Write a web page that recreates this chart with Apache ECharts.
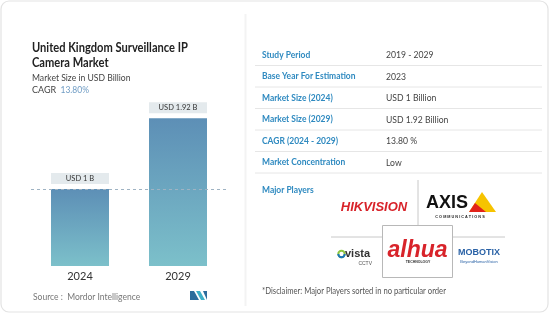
<!DOCTYPE html>
<html><head><meta charset="utf-8">
<script src="https://cdn.jsdelivr.net/npm/echarts@6/dist/echarts.min.js"></script>
<style>html,body{margin:0;padding:0;background:#fff}#c{width:550px;height:315px}</style>
</head><body><div id="c"></div>
<script>
const categories = ['2024', '2029'];
const values = [1, 1.92];
const valueLabels = ['USD 1 B', 'USD 1.92 B'];
const titleLines = ['United Kingdom Surveillance IP', 'Camera Market'];
const subtitle = 'Market Size in USD Billion';
const cagrText = '13.80%';
const tableLabels = ['Study Period', 'Base Year For Estimation', 'Market Size (2024)', 'Market Size (2029)', 'CAGR (2024 - 2029)', 'Market Concentration'];
const tableValues = ['2019 - 2029', '2023', 'USD 1 Billion', 'USD 1.92 Billion', '13.80 %', 'Low'];
const players = ['HIKVISION', 'AXIS', 'vista', 'alhua', 'MOBOTIX'];

const F = 'Lato, "Open Sans", sans-serif';
const chart = echarts.init(document.getElementById('c'), null, {renderer: 'canvas'});

const g = [];
function txt(x, y, text, font, fill, sx, extra) {
  g.push(Object.assign({type: 'text', x: x, y: y, scaleX: sx || 1, z: 5,
    style: {text: text, font: font, fill: fill, verticalAlign: 'middle'}}, extra || {}));
}
// outer card
g.push({type: 'rect', z: -10, shape: {x: 1, y: 1, width: 547, height: 311, r: 8}, style: {fill: '#fff', stroke: '#e3e3e3', lineWidth: 1.2}});
g.push({type: 'line', z: -9, shape: {x1: 245.5, y1: 14, x2: 245.5, y2: 306}, style: {stroke: '#f3f3f3', lineWidth: 2}});
// title
titleLines.forEach((t, i) => txt(32, 48 + i * 14.5, t, 'bold 12.5px ' + F, '#222', 0.89));
txt(32, 77.5, subtitle, '10px ' + F, '#444', 0.86);
txt(32, 90, 'CAGR', '10px ' + F, '#444', 0.9);
txt(60.5, 90, cagrText, '10px ' + F, '#6f9cc4', 0.85);
// source
txt(33, 297, 'Source :  Mordor Intelligence', '8.5px ' + F, '#777', 1);
// Mordor logo
g.push({type: 'polygon', shape: {points: [[190, 300], [190, 291], [194, 291], [199, 300]]}, style: {fill: '#2b6c9c'}});
g.push({type: 'polygon', shape: {points: [[196, 291], [200, 291], [205, 300], [201, 300]]}, style: {fill: '#3db0c8'}});
g.push({type: 'polygon', shape: {points: [[203, 291], [207, 291], [207, 300]]}, style: {fill: '#2b6c9c'}});
// table
const rowY = [55, 76.5, 98, 119.5, 141, 162.5];
tableLabels.forEach((t, i) => {
  txt(262, rowY[i], t, 'bold 9px ' + F, '#2f8ac0', 0.94);
  txt(386, rowY[i], tableValues[i], '9.8px ' + F, '#444', 0.88);
  g.push({type: 'line', shape: {x1: 255, y1: rowY[i] + 10.5, x2: 542, y2: rowY[i] + 10.5}, style: {stroke: '#e6e6e6', lineWidth: 1}});
});
txt(262, 190, 'Major Players', 'bold 9px ' + F, '#2f8ac0', 0.94);
// logo grid
g.push({type: 'line', shape: {x1: 418, y1: 180, x2: 418, y2: 225}, style: {stroke: '#c8c8c8', lineWidth: 1}});
g.push({type: 'line', shape: {x1: 331, y1: 237, x2: 505, y2: 237}, style: {stroke: '#c8c8c8', lineWidth: 1}});
g.push({type: 'rect', shape: {x: 382.5, y: 225.5, width: 70, height: 52}, style: {fill: '#fff', stroke: '#b8b8b8', lineWidth: 1}});
// HIKVISION
g.push({type: 'text', x: 374, y: 207, style: {text: players[0], font: 'italic bold 13px Arial, ' + F, fill: '#d8232a', align: 'center', verticalAlign: 'middle'}});
// AXIS
g.push({type: 'polygon', shape: {points: [[469, 212], [482, 192], [496, 212]]}, style: {fill: '#f6c300'}});
g.push({type: 'polygon', shape: {points: [[469, 212], [475, 203], [486, 212]]}, style: {fill: '#e2231a'}});
g.push({type: 'text', x: 447, y: 203.5, style: {text: players[1], font: 'bold 18px Arial, ' + F, fill: '#111', align: 'center', verticalAlign: 'middle'}});
g.push({type: 'text', x: 460, y: 217, z: 6, style: {text: 'C O M M U N I C A T I O N S', font: 'bold 3.8px Arial', fill: '#222', align: 'center', verticalAlign: 'middle'}});
// vista
g.push({type: 'circle', shape: {cx: 341.5, cy: 254, r: 3.2}, style: {fill: 'none', stroke: '#8cc63f', lineWidth: 2}});
g.push({type: 'arc', shape: {cx: 341.5, cy: 254, r: 3.2, startAngle: 0, endAngle: Math.PI}, style: {fill: 'none', stroke: '#1b75bb', lineWidth: 2}});
g.push({type: 'text', x: 345, y: 254, style: {text: players[2], font: 'bold 11px Arial, ' + F, fill: '#333', verticalAlign: 'middle'}});
g.push({type: 'text', x: 372, y: 264, style: {text: 'CCTV', font: '5px Arial', fill: '#555', align: 'right', verticalAlign: 'middle'}});
// dahua
g.push({type: 'text', x: 417.5, y: 251, style: {text: players[3], font: 'italic bold 23px Arial, ' + F, fill: '#d8232a', align: 'center', verticalAlign: 'middle'}});
g.push({type: 'text', x: 418, y: 262, style: {text: 'TECHNOLOGY', font: 'bold 3.5px Arial', fill: '#333', align: 'center', verticalAlign: 'middle'}});
// MOBOTIX
g.push({type: 'text', x: 479, y: 253, style: {text: players[4], font: 'bold 9px Arial, ' + F, fill: '#2a62a6', align: 'center', verticalAlign: 'middle'}});
g.push({type: 'text', x: 479, y: 262, style: {text: 'BeyondHumanVision', font: '4px Arial', fill: '#2a62a6', align: 'center', verticalAlign: 'middle'}});
// disclaimer
txt(262, 291, '*Disclaimer: Major Players sorted in no particular order', '8.5px ' + F, '#555', 0.9);

chart.setOption({
  animation: false,
  graphic: {elements: g},
  grid: {left: 31, width: 196, bottom: 49, top: 96.6},
  xAxis: {type: 'category', data: categories, axisLine: {show: false}, axisTick: {show: false},
    axisLabel: {color: '#333', fontSize: 11, fontFamily: F, margin: 5}},
  yAxis: {type: 'value', min: 0, max: 2.2, show: false, splitLine: {show: false}},
  series: [{
    type: 'bar', data: values, barWidth: 58,
    itemStyle: {color: new echarts.graphic.LinearGradient(0, 0, 0, 1, [{offset: 0, color: '#5d8fb6'}, {offset: 1, color: '#7cc0ca'}])},
    label: {show: true, position: 'top', distance: 5,
      formatter: p => valueLabels[p.dataIndex],
      backgroundColor: '#e4eaed', width: 58, height: 11, lineHeight: 11, align: 'center',
      color: '#333', fontSize: 7.5, fontFamily: F},
    markLine: {silent: true, symbol: 'none', label: {show: false},
      lineStyle: {type: [3, 3], color: '#9fb3c3', width: 1},
      data: [{yAxis: values[0]}]}
  }]
});
</script></body></html>
